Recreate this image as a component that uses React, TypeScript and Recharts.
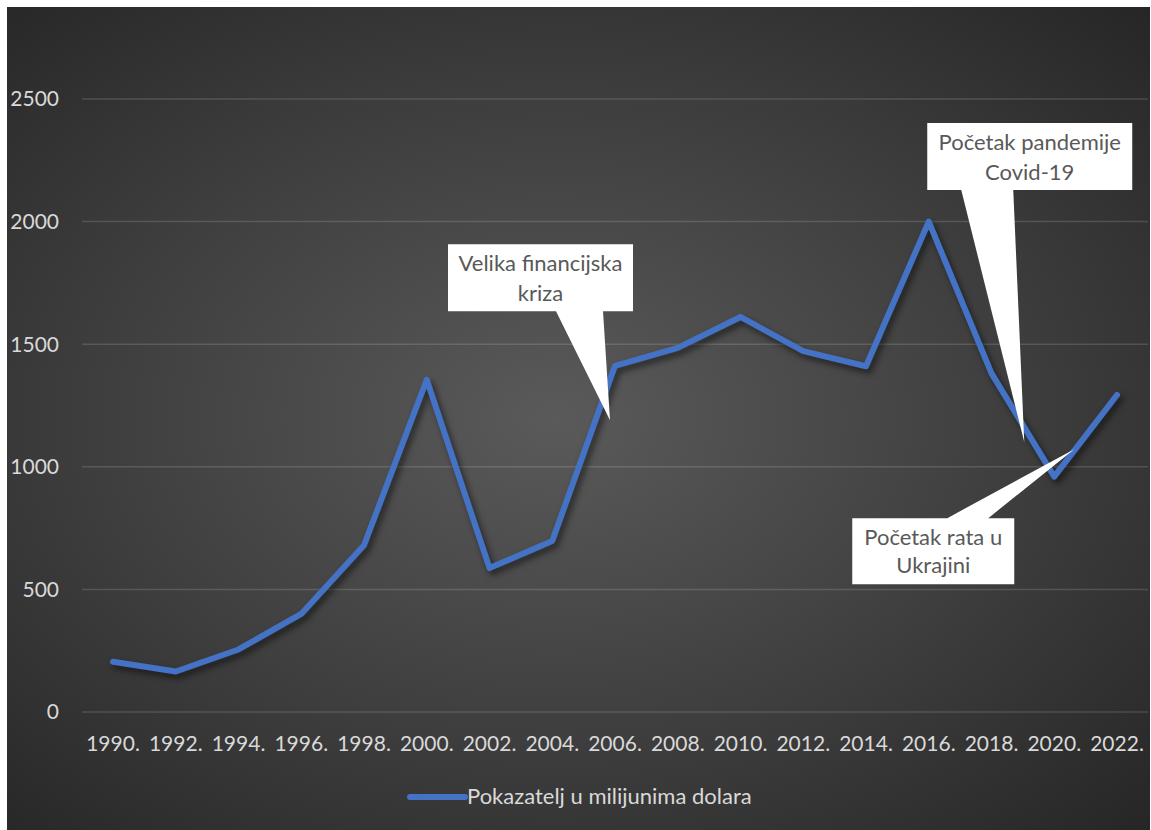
import React from "react";
import { LineChart, Line, XAxis, YAxis, CartesianGrid, Legend, ReferenceDot } from "recharts";

const years = ["1990.", "1992.", "1994.", "1996.", "1998.", "2000.", "2002.", "2004.", "2006.", "2008.", "2010.", "2012.", "2014.", "2016.", "2018.", "2020.", "2022."];
const values = [205, 165, 255, 400, 680, 1355, 587, 697, 1412, 1485, 1611, 1472, 1410, 2000, 1381, 960, 1293];
const yTicks = [0, 500, 1000, 1500, 2000, 2500];
const seriesName = "Pokazatelj u milijunima dolara";

const annotationLines = [
  ["Velika financijska", "kriza"],
  ["Početak pandemije", "Covid-19"],
  ["Početak rata u", "Ukrajini"],
];
const annotationX = ["2006.", "2020.", "2020."];
const annotationY = [1190, 1101, 1072];

const data = years.map((y, i) => ({ year: y, value: values[i] }));

// layout of each callout relative to its pointer tip (pixels)
const calloutLayout = [
  { dx: -5, l: -162, r: 23, t: -176, b: -109, p1: -54, p2: -7, side: "bottom", base: [-149, -119] },
  { dx: -30, l: -97, r: 108, t: -319, b: -252, p1: -63, p2: -11, side: "bottom", base: [-292, -262] },
  { dx: 20, l: -222, r: -60, t: 69, b: 135, p1: -127, p2: -86, side: "top", base: [96, 124] },
];

const BLUE = "#4472C4";
const FONT = "Lato, 'Open Sans', sans-serif";

function Callout(props: any) {
  const { cx, cy, idx } = props;
  const c = calloutLayout[idx];
  const tx = cx + c.dx;
  const ty = cy;
  let pts: number[][];
  if (c.side === "bottom") {
    pts = [
      [tx + c.l, ty + c.t],
      [tx + c.r, ty + c.t],
      [tx + c.r, ty + c.b],
      [tx + c.p2, ty + c.b],
      [tx, ty],
      [tx + c.p1, ty + c.b],
      [tx + c.l, ty + c.b],
    ];
  } else {
    pts = [
      [tx + c.l, ty + c.t],
      [tx + c.p1, ty + c.t],
      [tx, ty],
      [tx + c.p2, ty + c.t],
      [tx + c.r, ty + c.t],
      [tx + c.r, ty + c.b],
      [tx + c.l, ty + c.b],
    ];
  }
  const mx = tx + (c.l + c.r) / 2;
  return (
    <g>
      <polygon points={pts.map((p) => p.join(",")).join(" ")} fill="#ffffff" />
      {annotationLines[idx].map((t, k) => (
        <text key={k} x={mx} y={ty + c.base[k]} textAnchor="middle" fill="#595959" fontSize={22} fontFamily={FONT}>
          {t}
        </text>
      ))}
    </g>
  );
}

function renderLegend() {
  return (
    <div style={{ position: "relative", height: 30, width: 1143 }}>
      <svg style={{ position: "absolute", left: 398, top: 0 }} width={66} height={30}>
        <line x1={5} y1={15} x2={60} y2={15} stroke={BLUE} strokeWidth={6} strokeLinecap="round" />
      </svg>
      <span style={{ position: "absolute", left: 460, top: 1, fontSize: 22, color: "#d9d9d9", fontFamily: FONT, whiteSpace: "nowrap", lineHeight: "26px" }}>
        {seriesName}
      </span>
    </div>
  );
}

export default function App() {
  return (
    <div
      style={{
        position: "absolute",
        left: 7,
        top: 7,
        width: 1143,
        height: 823,
        background: "radial-gradient(ellipse farthest-corner at 48% 50%, #5a5a5a 0%, #3e3e3e 55%, #262626 100%)",
        fontFamily: FONT,
      }}
    >
      <style>{`.recharts-line-curve { filter: drop-shadow(3px 4px 3px rgba(0,0,0,0.55)); }`}</style>
      <LineChart width={1143} height={823} data={data} margin={{ top: 92, right: 2, bottom: 88, left: 0 }}>
        <CartesianGrid vertical={false} stroke="rgba(255,255,255,0.14)" strokeWidth={1.5} />
        <XAxis
          dataKey="year"
          axisLine={false}
          tickLine={false}
          tickSize={6}
          tickMargin={18}
          padding={{ left: 31, right: 31 }}
          interval={0}
          tick={{ fill: "#d9d9d9", fontSize: 21, fontFamily: FONT }}
          height={30}
        />
        <YAxis
          domain={[0, 2500]}
          ticks={yTicks}
          axisLine={false}
          tickLine={false}
          tickSize={6}
          tickMargin={17}
          width={75}
          tick={{ fill: "#d9d9d9", fontSize: 21, fontFamily: FONT }}
        />
        <Legend layout="horizontal" verticalAlign="middle" align="center" content={renderLegend} wrapperStyle={{ top: 775, left: 0, width: 1143 }} />
        <Line
          type="linear"
          dataKey="value"
          name={seriesName}
          stroke={BLUE}
          strokeWidth={6}
          strokeLinejoin="round"
          strokeLinecap="round"
          dot={false}
          activeDot={false}
          isAnimationActive={false}
        />
        {annotationX.map((x, i) => (
          <ReferenceDot key={i} x={x} y={annotationY[i]} ifOverflow="visible" shape={(p: any) => <Callout {...p} idx={i} />} />
        ))}
      </LineChart>
    </div>
  );
}
